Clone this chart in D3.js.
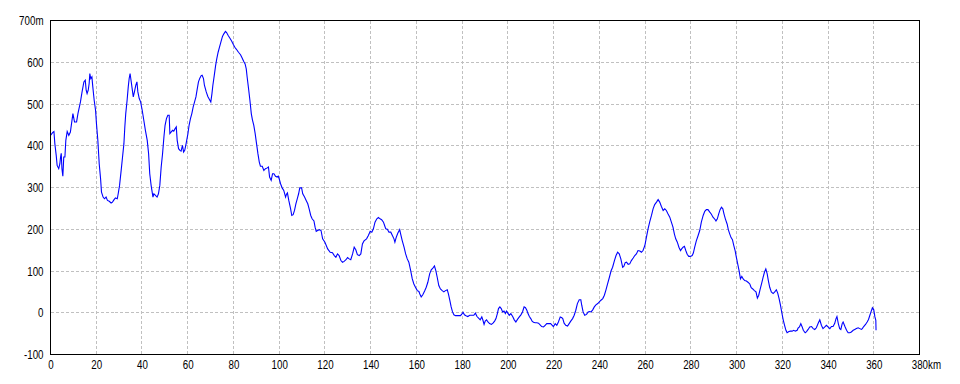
<!DOCTYPE html>
<html>
<head>
<meta charset="utf-8">
<script src="https://cdn.jsdelivr.net/npm/d3@7"></script>
<style>
  body { margin: 0; background: #fff; }
  svg { display: block; }
  text { font-family: "Liberation Sans", Arial, sans-serif; font-size: 13px; fill: #000; }
</style>
</head>
<body>
<svg id="chart" width="960" height="384"></svg>
<script>
// 距離 (km) と標高 (m)
const distKm = [
  0, 1, 1.5, 1.9, 2.5, 2.9, 3.6, 4.1, 4.4, 4.7, 5.0, 5.4, 5.8, 6.3, 6.7, 7.3, 8.0, 8.7, 9.2, 9.8,
  10.5, 11.4, 12, 13.1, 13.8, 14.6, 15.2, 15.6, 16.0, 16.5, 16.9, 17.2, 17.6, 18.1, 18.5, 19.1, 19.7, 20.1, 20.7, 21.3,
  21.9, 22.3, 23.0, 23.6, 24.3, 24.9, 25.7, 26.5, 27.1, 27.8, 28.4, 29.2, 29.6, 30.2, 30.9, 31.5, 32.1, 32.5, 32.9, 33.5,
  34.0, 34.4, 34.8, 35.1, 35.6, 36.2, 36.7, 37.3, 37.8, 38.2, 38.8, 39.4, 40.1, 40.8, 41.5, 42.3, 42.9, 43.4, 44.0, 44.8,
  45.2, 45.9, 46.6, 47.2, 47.8, 48.4, 49.0, 49.6, 50.1, 50.7, 51.3, 51.9, 52.2, 52.8, 53.4, 53.9, 54.5, 55.0, 55.4, 56.0,
  56.6, 57.1, 57.7, 58.2, 58.7, 59.3, 60.1, 60.6, 61.2, 61.8, 62.4, 63.0, 63.6, 64.1, 64.7, 65.3, 65.9, 66.3, 66.9, 67.3,
  68.1, 68.8, 69.5, 70.1, 70.6, 71.0, 71.6, 72.2, 72.7, 73.3, 73.9, 74.5, 75.2, 75.8, 76.5, 77.0, 77.7, 78.4, 79.2, 79.9,
  80.6, 81.3, 82.2, 83.1, 83.8, 84.5, 85.1, 85.6, 86.0, 86.6, 87.2, 87.8, 88.3, 88.9, 89.5, 90.1, 90.7, 91.3, 91.8, 92.6,
  93.3, 94.0, 94.8, 95.3, 95.8, 96.5, 97.1, 97.7, 98.4, 99.1, 99.6, 100.0, 100.6, 101.3, 102.0, 102.8, 103.2, 103.6, 104.2, 105.0,
  105.5, 106.1, 106.7, 107.3, 107.9, 108.5, 109.0, 109.8, 110.3, 111.1, 111.8, 112.5, 113.1, 113.8, 114.4, 115.2, 115.7, 116.2, 116.8, 117.6,
  118.3, 119, 120, 121.2, 122.3, 123.3, 124.1, 124.8, 125.5, 126.2, 127, 127.7, 128.4, 129.2, 129.9, 130.6, 131.3, 132.1, 132.8, 133.5,
  134.2, 135, 135.7, 136.4, 137.1, 138.2, 139, 139.8, 140.5, 141.2, 141.9, 142.7, 143.4, 144.1, 144.8, 145.6, 146.1, 146.6, 147.3, 148,
  148.8, 149.5, 150.2, 150.6, 151.2, 151.9, 152.7, 153.1, 153.8, 154.6, 155.3, 156, 156.7, 157.5, 158.2, 158.9, 159.7, 160.4, 161.1, 161.5,
  162.1, 162.8, 163.6, 164.3, 165, 165.8, 166.5, 167.2, 167.9, 168.5, 169.1, 169.8, 170.5, 171.3, 172, 172.7, 173.5, 174, 174.6, 175.2,
  175.8, 176.4, 177.1, 177.8, 178.5, 179.3, 180, 180.4, 181, 181.7, 182.5, 183.3, 184.2, 185.1, 185.8, 186.5, 187.2, 187.9, 188.6, 189.1,
  189.6, 190.1, 190.7, 191.3, 192, 192.8, 193.5, 194.2, 194.8, 195.4, 195.9, 196.5, 197.1, 197.7, 198.3, 198.9, 199.4, 200, 200.6, 201.3,
  202.1, 202.8, 203.5, 204.2, 205, 205.7, 206.4, 207.1, 207.7, 208.3, 208.8, 209.4, 210, 210.6, 211.2, 211.9, 212.7, 213.4, 214.1, 214.8,
  215.6, 216.3, 217, 217.9, 218.7, 219.4, 219.9, 220.7, 221.4, 222.1, 222.9, 223.6, 224, 224.6, 225.3, 226.1, 226.8, 227.5, 228.3, 229,
  229.7, 230.4, 231.2, 231.9, 232.3, 232.9, 233.6, 234.4, 235.1, 235.7, 236.4, 237.1, 237.8, 238.5, 239.3, 240, 240.7, 241.5, 242.2, 242.9,
  243.6, 244.4, 245.1, 245.8, 246.6, 247.3, 248, 248.7, 249.4, 250.2, 250.7, 251.3, 251.9, 252.6, 253.3, 254, 254.8, 255.5, 256.2, 256.9,
  257.7, 258.4, 259.1, 259.9, 260.6, 261.3, 262, 262.8, 263.5, 264.2, 265, 265.7, 266.4, 267.1, 267.9, 268.6, 269.3, 270, 270.8, 271.5,
  272.2, 272.8, 273.4, 274.1, 274.8, 275.5, 276, 276.6, 277.2, 277.8, 278.4, 279.1, 279.8, 280.6, 281.1, 281.7, 282.4, 283.2, 283.9, 284.6,
  285.4, 286.1, 286.8, 287.5, 288.3, 289, 289.7, 290.5, 291, 291.6, 292.2, 292.8, 293.4, 294, 294.5, 295.1, 295.9, 296.4, 297, 297.6,
  298.2, 298.8, 299.4, 299.9, 300.5, 301.1, 301.7, 302.3, 302.9, 303.6, 304.3, 305, 305.8, 306.4, 307.1, 307.8, 308.5, 309.1, 309.7, 310.3,
  311, 311.6, 312.2, 312.8, 313.4, 313.9, 314.5, 315.2, 316, 316.7, 317.4, 318, 318.6, 319.2, 319.8, 320.4, 321, 321.6, 322.1, 322.9,
  323.6, 324.3, 325, 325.7, 326.5, 326.9, 327.5, 328.1, 328.7, 329.2, 330, 330.6, 331.3, 332, 332.8, 333.5, 334.2, 334.9, 335.7, 336.4,
  337.1, 337.8, 338.6, 339.3, 340, 340.8, 341.5, 342.2, 342.9, 343.5, 343.9, 344.5, 345.1, 345.6, 346.2, 346.6, 347.4, 348.1, 348.8, 349.5,
  350.2, 351, 351.7, 352.4, 353.2, 353.9, 354.6, 355, 355.6, 356.4, 357.1, 357.7, 358.3, 358.9, 359.4, 360, 360.5, 360.9, 361
];
const elevM = [
  425, 432, 434, 405, 377, 353, 345, 357, 373, 382, 345, 327, 373, 373, 413, 434, 425, 433, 453, 477,
  457, 457, 477, 505, 529, 553, 557, 533, 525, 533, 549, 573, 561, 565, 541, 509, 485, 453, 413, 357,
  321, 289, 277, 273, 277, 269, 267, 263, 265, 271, 275, 273, 285, 305, 341, 373, 405, 445, 477, 509,
  541, 561, 573, 561, 541, 517, 529, 545, 553, 529, 513, 505, 485, 461, 437, 413, 381, 333, 305, 277,
  285, 281, 277, 285, 305, 349, 381, 421, 449, 465, 473, 473, 429, 433, 437, 435, 441, 445, 413, 393,
  389, 387, 401, 385, 389, 405, 429, 449, 465, 477, 493, 505, 517, 534, 553, 562, 568, 569, 561, 545,
  529, 518, 511, 505, 525, 545, 568, 592, 608, 624, 636, 648, 662, 668, 674, 671, 664, 658, 651, 643,
  636, 631, 624, 618, 610, 602, 596, 584, 564, 537, 509, 477, 462, 449, 429, 405, 381, 361, 351, 351,
  341, 345, 347, 349, 325, 317, 333, 333, 327, 325, 327, 321, 309, 299, 293, 277, 284, 287, 269, 249,
  233, 235, 245, 261, 273, 285, 299, 299, 285, 277, 269, 261, 249, 233, 225, 220, 205, 195, 197, 199,
  197, 177, 169, 153, 145, 144, 137, 133, 141, 137, 125, 121, 123, 127, 132, 129, 127, 141, 157, 151,
  139, 137, 141, 165, 172, 177, 185, 195, 193, 201, 217, 225, 228, 225, 223, 217, 209, 201, 200, 193,
  193, 185, 177, 169, 181, 191, 199, 189, 173, 157, 141, 129, 121, 101, 81, 69, 60, 53, 51, 45,
  38, 43, 52, 61, 73, 93, 103, 107, 112, 101, 85, 65, 57, 53, 50, 53, 55, 45, 30, 14,
  2, -5, -7, -7, -7, -7, -2, 1, -5, -7, -9, -6, -6, -6, -1, -9, -13, -17, -10, -18,
  -28, -20, -17, -22, -26, -28, -25, -20, -14, -2, 10, 14, 10, 2, 4, -2, 4, -1, -6, -2,
  -9, -17, -22, -16, -10, -5, 2, 14, 12, 6, -2, -9, -14, -20, -23, -24, -24, -25, -29, -33,
  -34, -30, -26, -26, -26, -30, -33, -26, -30, -22, -10, -12, -14, -25, -30, -32, -26, -20, -14, -6,
  6, 22, 31, 31, 18, 2, -6, -4, 2, 3, 2, 7, 14, 19, 22, 26, 30, 34, 42, 55,
  69, 85, 100, 109, 125, 137, 145, 141, 129, 109, 111, 120, 121, 116, 117, 125, 131, 137, 141, 149,
  148, 145, 149, 161, 181, 201, 217, 233, 249, 259, 265, 271, 265, 255, 245, 249, 245, 237, 229, 217,
  205, 189, 177, 169, 157, 149, 153, 157, 159, 149, 140, 135, 135, 137, 143, 157, 172, 185, 197, 217,
  233, 243, 247, 247, 241, 236, 229, 224, 220, 225, 237, 247, 253, 249, 237, 225, 212, 199, 189, 180,
  175, 161, 148, 133, 117, 101, 81, 87, 81, 77, 76, 73, 69, 60, 57, 53, 50, 35, 42, 56,
  71, 85, 97, 105, 93, 77, 61, 50, 46, 50, 55, 47, 34, 18, 0, -17, -30, -42, -48, -45,
  -44, -44, -42, -44, -42, -37, -34, -26, -34, -42, -48, -45, -40, -34, -33, -38, -40, -36, -25, -17,
  -30, -38, -34, -30, -34, -38, -33, -33, -26, -14, -9, -26, -38, -40, -26, -22, -33, -42, -48, -48,
  -46, -42, -40, -38, -36, -38, -40, -38, -33, -28, -22, -16, -6, 4, 12, 7, -10, -18, -42
];
const xTicks = [0, 20, 40, 60, 80, 100, 120, 140, 160, 180, 200, 220, 240, 260, 280, 300, 320, 340, 360, 380];
const yTicks = [-100, 0, 100, 200, 300, 400, 500, 600, 700];

const svg = d3.select('#chart');
const plotL = 50.5, plotR = 919.5, plotT = 20.5, plotB = 354.5;

const x = d3.scaleLinear().domain([0, 380]).range([plotL, plotR]);
const y = d3.scaleLinear().domain([-100, 700]).range([plotB, plotT]);

// グリッド
const grid = svg.append('g')
    .attr('stroke', '#c0c0c0')
    .attr('stroke-dasharray', '3,2')
    .attr('shape-rendering', 'crispEdges');

grid.selectAll('line.v')
    .data(xTicks.slice(1, -1))
    .enter()
    .append('line')
    .classed('v', true)
    .attr('x1', d => x(d)).attr('x2', d => x(d))
    .attr('y1', plotT).attr('y2', plotB);

grid.selectAll('line.h')
    .data(yTicks.slice(1, -1))
    .enter()
    .append('line')
    .classed('h', true)
    .attr('x1', plotL).attr('x2', plotR)
    .attr('y1', d => y(d)).attr('y2', d => y(d));

// 標高ライン
const n = Math.min(distKm.length, elevM.length);
const points = distKm.slice(0, n).map((d, i) => [d, elevM[i]]);
svg.append('path')
    .datum(points)
    .attr('fill', 'none')
    .attr('stroke', '#0000ff')
    .attr('stroke-width', 1.1)
    .attr('d', d3.line().x(d => x(d[0])).y(d => y(d[1])));

// 枠
svg.append('rect')
    .attr('x', plotL).attr('y', plotT)
    .attr('width', plotR - plotL).attr('height', plotB - plotT)
    .attr('fill', 'none')
    .attr('stroke', '#000')
    .attr('shape-rendering', 'crispEdges');

// 軸ラベル
const xAxis = svg.append('g')
    .attr('transform', `translate(0,${plotB})`)
    .call(d3.axisBottom(x).tickValues(xTicks).tickSize(0).tickPadding(5)
        .tickFormat(d => d === 380 ? '380km' : d));
xAxis.select('.domain').remove();
xAxis.selectAll('text')
    .filter(d => d === 380)
    .attr('text-anchor', 'start')
    .attr('dx', -11);

const yAxis = svg.append('g')
    .attr('transform', `translate(${plotL - 7},0)`)
    .call(d3.axisLeft(y).tickValues(yTicks).tickSize(0).tickPadding(0)
        .tickFormat(d => d === 700 ? '700m' : d));
yAxis.select('.domain').remove();

// 細長い字形に寄せる
svg.selectAll('.tick text')
    .attr('font-size', 13)
    .attr('font-family', null)
    .attr('transform', 'scale(0.75,1)');
</script>
</body>
</html>
